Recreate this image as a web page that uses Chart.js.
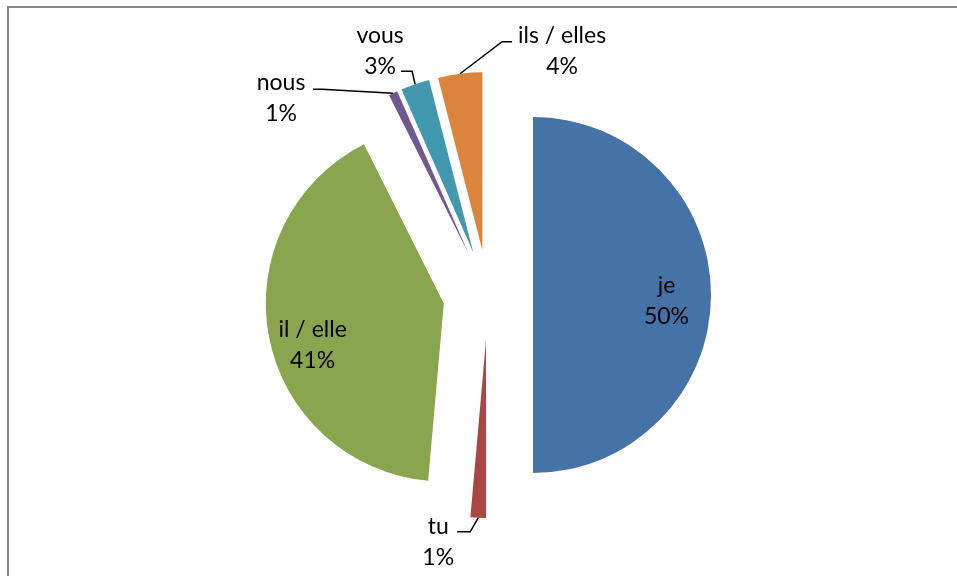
<!DOCTYPE html>
<html>
<head>
<meta charset="utf-8">
<script src="https://cdn.jsdelivr.net/npm/chart.js@4.4.1/dist/chart.umd.min.js"></script>
<style>
html,body{margin:0;padding:0;background:#fff;overflow:hidden;width:957px;height:576px}
#wrap{position:relative;width:957px;height:576px}
#frame{position:absolute;left:7px;top:6px;width:2000px;height:2000px;border:2px solid #878787;pointer-events:none}
canvas{position:absolute;left:0;top:0}
</style>
</head>
<body>
<div id="wrap">
  <canvas id="pie" width="957" height="576"></canvas>
  <div id="frame"></div>
</div>
<script>
/* ─── DATA ─────────────────────────────────────────── */
const labels=['je','tu','il / elle','nous','vous','ils / elles'];
const values=[50,1.4,41.2,0.8,2.6,4.0];
const colors=['#4572A7','#AA4643','#89A54E','#71588F','#4198AF','#DB843D'];

/* ─── LAYOUT (label placement, px) ─────────────────── */
const RADIUS=178, SHIFT=45;           // explosion distance of every slice
const FONT='23px Lato', LH=31;
// inside: k = fraction of radius along bisector, dy = first baseline offset
// outside: points relative to the slice's outer point: elbow, end of leader, text (center x, first baseline)
const place=[
  {inside:true,k:0.75,dy:-2},
  {elbow:[-8,14],end:[-21,14],text:[-40,16]},
  {inside:true,k:0.75,dy:9},
  {elbow:[-71,-4],end:[-80,-4],text:[-112,-3]},
  {elbow:[-3,-13],end:[-14,-13],text:[-35,-41]},
  {elbow:[42,-32],end:[52,-32],text:[102,-31]}
];

/* ─── PLUGINS ──────────────────────────────────────── */
// Chart.js' own `offset` also shrinks/grows exploded slices, so move each arc along its bisector instead
const explode={id:'explode',afterDatasetsUpdate(chart){
  chart.getDatasetMeta(0).data.forEach(a=>{
    const mid=(a.startAngle+a.endAngle)/2;
    a.x+=Math.cos(mid)*SHIFT;
    a.y+=Math.sin(mid)*SHIFT;
  });
}};

const pieLabels={id:'pieLabels',afterDatasetsDraw(chart){
  const ctx=chart.ctx, meta=chart.getDatasetMeta(0);
  const total=values.reduce((s,v)=>s+v,0);
  ctx.save();
  ctx.font=FONT;ctx.fillStyle='#000';ctx.strokeStyle='#000';ctx.lineWidth=1.5;
  ctx.textAlign='center';ctx.textBaseline='alphabetic';
  meta.data.forEach((a,i)=>{
    const {x,y,startAngle,endAngle,outerRadius}=a.getProps(['x','y','startAngle','endAngle','outerRadius'],true);
    const mid=(startAngle+endAngle)/2, dx=Math.cos(mid), dy=Math.sin(mid);
    const pct=Math.round(values[i]/total*100)+'%';
    const p=place[i];
    let tx,ty;
    if(p.inside){
      tx=x+dx*p.k*outerRadius; ty=y+dy*p.k*outerRadius+p.dy;
    }else{
      const px=x+dx*outerRadius, py=y+dy*outerRadius;
      ctx.beginPath();
      ctx.moveTo(px,py);
      ctx.lineTo(px+p.elbow[0],py+p.elbow[1]);
      ctx.lineTo(px+p.end[0],py+p.end[1]);
      ctx.stroke();
      tx=px+p.text[0]; ty=py+p.text[1];
    }
    ctx.fillText(labels[i],tx,ty);
    ctx.fillText(pct,tx,ty+LH);
  });
  ctx.restore();
}};

/* ─── CHART ────────────────────────────────────────── */
new Chart(document.getElementById('pie'),{
  type:'pie',
  data:{labels,datasets:[{data:values,backgroundColor:colors,borderWidth:0,hoverOffset:0,radius:RADIUS}]},
  options:{
    responsive:false,animation:false,devicePixelRatio:1,
    layout:{padding:{left:20,right:1,top:14,bottom:0}},
    plugins:{legend:{display:false},tooltip:{enabled:false}},
    events:[]
  },
  plugins:[explode,pieLabels]
});
</script>
</body>
</html>
